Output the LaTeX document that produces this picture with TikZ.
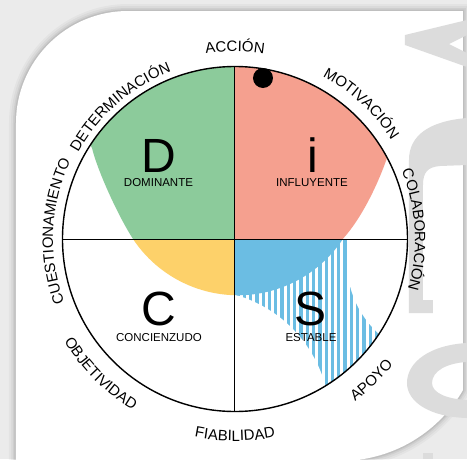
\documentclass[tikz,border=0pt]{standalone}
\usepackage{fontspec}
\setmainfont{Liberation Sans}
\usetikzlibrary{decorations.text}
\definecolor{discgreen}{HTML}{8CCB9B}
\definecolor{discred}{HTML}{F5A08F}
\definecolor{discyellow}{HTML}{FDD16A}
\definecolor{discblue}{HTML}{6BBDE3}
\definecolor{pagegray}{HTML}{EBEBEB}
\definecolor{watermark}{HTML}{DCDCDC}
\newcommand\rimfont{\fontsize{15}{18}\selectfont}
\newcommand\bigletterfont{\fontsize{48}{52}\selectfont}
\newcommand\stylenamefont{\fontsize{11.5}{13}\selectfont}
\begin{document}
\begin{tikzpicture}[x=1pt,y=1pt,
  rimline/.style={line width=1.4pt},
  axisline/.style={line width=1pt},
  bigletter/.style={font=\bigletterfont, inner sep=0pt},
  stylename/.style={font=\stylenamefont, inner sep=0pt},
  rimtext/.style={decorate, decoration={text along path, text align=center, text={|\rimfont|#1}}},
  markfill/.style={fill=watermark},
]
\useasboundingbox (-235,239) rectangle (232,-220);
% page background
\fill[pagegray] (-235,239) rectangle (232,-220);
% soft shadow of the card
\foreach \w/\o in {14/0.03,10/0.04,6/0.05,3/0.07}
  \draw[black, opacity=\o, line width=\w pt]
    (-219,-240) -- (-219,116) arc[start angle=180,end angle=90,radius=112]
    -- (228,228) -- (228,-151) arc[start angle=-30,end angle=-82,radius=142] -- (125,-240);
% white card
\fill[white]
  (-219,-240) -- (-219,116) arc[start angle=180,end angle=90,radius=112]
  -- (228,228) -- (228,-151) arc[start angle=-30,end angle=-82,radius=142] -- (125,-240) -- cycle;

% large lettering running down the right edge of the card
\begin{scope}[shift={(-235,239)}, y=-1pt]
  \clip (0,11) rectangle (467,459);
  \fill[markfill] (405,35) -- (467,20) -- (467,35) -- (449,44) -- (467,53) -- (467,67) -- (405,45) -- cycle;
  \fill[markfill] (409,313) -- (409,160) .. controls (409,135) and (430,121) .. (467,118)
    -- (467,165) -- (440,166) .. controls (428,167) and (423,172) .. (423,185)
    -- (423,300) -- (433,300) -- (433,313) -- cycle;
  \fill[markfill] (467,343) .. controls (430,345) and (407,362) .. (407,383)
    .. controls (407,402) and (430,417) .. (467,418) -- (467,400)
    .. controls (447,399) and (432,393) .. (432,383)
    .. controls (432,371) and (447,363) .. (467,362) -- cycle;
  \fill[markfill] (423,453) rectangle (433,459);
\end{scope}

% named points of the chart
\coordinate (O) at (0,0);
\coordinate (W) at (-172.5,0);
\coordinate (E) at (172.5,0);
\coordinate (N) at (0,172.5);
\coordinate (S) at (0,-172.5);

\begin{scope}
  \clip (O) circle[radius=172.5];
  \fill[white] (O) circle[radius=172.5];
  % hatched band of the S quadrant
  \begin{scope}
    \clip (0,0) rectangle (200,-200);
    \foreach \x in {3,9.3,...,180}
      \draw[discblue, line width=3.3pt] (\x,0) -- (\x,-200);
  \end{scope}
  \fill[white] (-35,-181) circle[radius=130];
  \fill[white] (209,-23) circle[radius=97];
  % shaded profile
  \begin{scope}
    \clip (-102,0) arc[start angle=213.6,end angle=326.7,radius=126]
      .. controls (126.7,20.9) and (143,55) .. (152,81) -- (180,140) -- (200,200)
      -- (-200,200) -- (-180,160) -- (-143,91)
      .. controls (-138,70) and (-118,25) .. cycle;
    \fill[discgreen] (0,0) rectangle (-200,200);
    \fill[discred] (0,0) rectangle (200,200);
    \fill[discyellow] (0,0) rectangle (-200,-200);
    \fill[discblue] (0,0) rectangle (200,-200);
  \end{scope}
\end{scope}

% axes and rim
\draw[axisline] (W) -- (E);
\draw[axisline] (N) -- (S);
\draw[rimline] (O) circle[radius=172.5];

% profile marker
\node[circle, fill=black, minimum size=20pt, inner sep=0pt] (marker) at (28,161) {};

% quadrant letters and names
\node[bigletter] (dletter) at (-76,83) {D};
\node[stylename] (dname) at (-76.5,56) {DOMINANTE};
\node[bigletter] (iletter) at (78,84) {i};
\node[stylename] (iname) at (77,56) {INFLUYENTE};
\node[bigletter] (cletter) at (-76.5,-70) {C};
\node[stylename] (cname) at (-76,-99) {CONCIENZUDO};
\node[bigletter] (sletter) at (76,-69.5) {S};
\node[stylename] (sname) at (76,-99) {ESTABLE};

% rim words, upper half read clockwise
\path[rimtext=ACCIÓN] (120:187.5) arc[start angle=120,end angle=60,radius=187.5];
\path[rimtext=MOTIVACIÓN] (77:185) arc[start angle=77,end angle=17,radius=185];
\path[rimtext=COLABORACIÓN] (40:180) arc[start angle=40,end angle=-34,radius=180];
\path[rimtext=DETERMINACIÓN] (161:179) arc[start angle=161,end angle=101,radius=179];
\path[rimtext=CUESTIONAMIENTO] (215:182) arc[start angle=215,end angle=140,radius=182];
% rim words, lower half read counter-clockwise
\path[rimtext=OBJETIVIDAD] (200:199) arc[start angle=200,end angle=250,radius=199];
\path[rimtext=FIABILIDAD] (245:202) arc[start angle=245,end angle=295,radius=202];
\path[rimtext=APOYO] (290:202) arc[start angle=290,end angle=338,radius=202];
\end{tikzpicture}
\end{document}
